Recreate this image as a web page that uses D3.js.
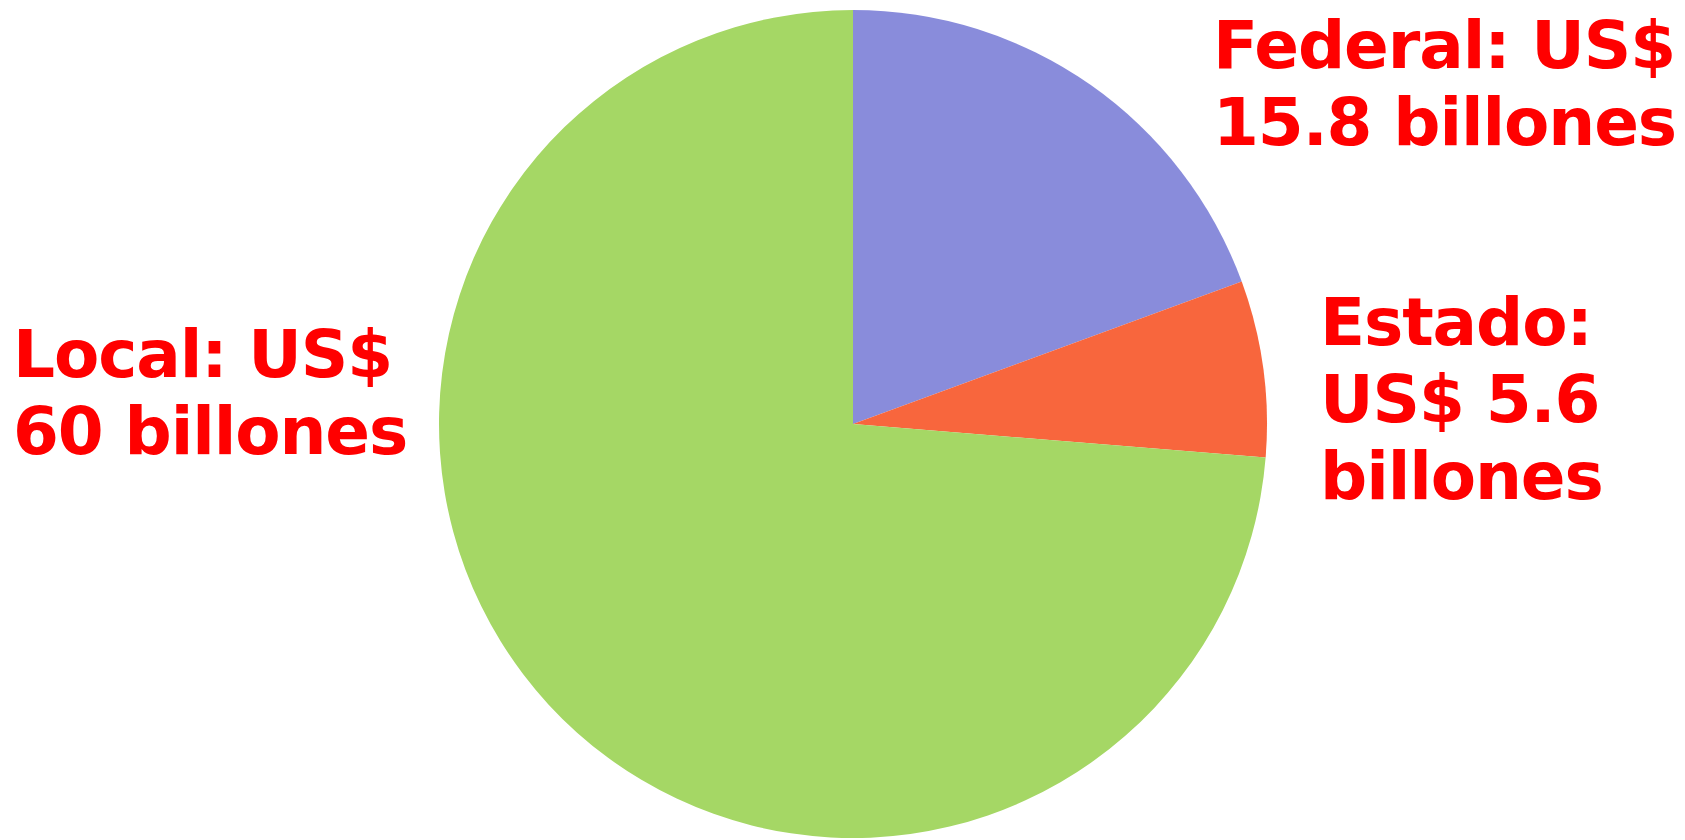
<!DOCTYPE html>
<html>
<head>
<meta charset="utf-8">
<script src="https://cdn.jsdelivr.net/npm/d3@7"></script>
<style>
  body { margin: 0; background: #fff; }
  text { font-family: "DejaVu Sans", Verdana, sans-serif; font-weight: bold; fill: #ff0000; }
</style>
</head>
<body>
<div id="chart"></div>
<script>
// gasto por nivel de gobierno, en billones de US$
var names = ["Federal", "Estado", "Local"]
var values = [15.8, 5.6, 60]
var colors = ["#898cdb", "#f8663d", "#a5d765"]
var labelLines = [
    ["Federal: US$", "15.8 billones"],
    ["Estado:", "US$ 5.6", "billones"],
    ["Local: US$", "60 billones"]
]

var width = 1685, height = 840
var cx = 853, cy = 424, radius = 414

var svg = d3.select("#chart")
    .append("svg")
    .attr("width", width)
    .attr("height", height)

var pie = d3.pie().sort(null).value(function (d) { return d })
var arc = d3.arc().innerRadius(0).outerRadius(radius)

var slices = svg.append("g")
    .attr("transform", "translate(" + cx + "," + cy + ")")

slices.selectAll("path")
    .data(pie(values))
    .enter()
    .append("path")
    .attr("d", arc)
    .style("fill", function (d, i) { return colors[i] })

// label blocks: left x and first baseline
var labelPos = [
    { x: 1213, y: 68 },
    { x: 1320, y: 345 },
    { x: 13, y: 377 }
]

var labels = svg.append("g").attr("class", "labels")
labels.selectAll("text")
    .data(names)
    .enter()
    .append("text")
    .attr("x", function (d, i) { return labelPos[i].x })
    .attr("y", function (d, i) { return labelPos[i].y })
    .style("font-size", "66px")
    .style("letter-spacing", "-1.1px")
    .each(function (d, i) {
        var t = d3.select(this)
        labelLines[i].forEach(function (line, j) {
            t.append("tspan")
                .attr("x", labelPos[i].x)
                .attr("y", labelPos[i].y + j * 77)
                .text(line)
        })
    })
</script>
</body>
</html>
